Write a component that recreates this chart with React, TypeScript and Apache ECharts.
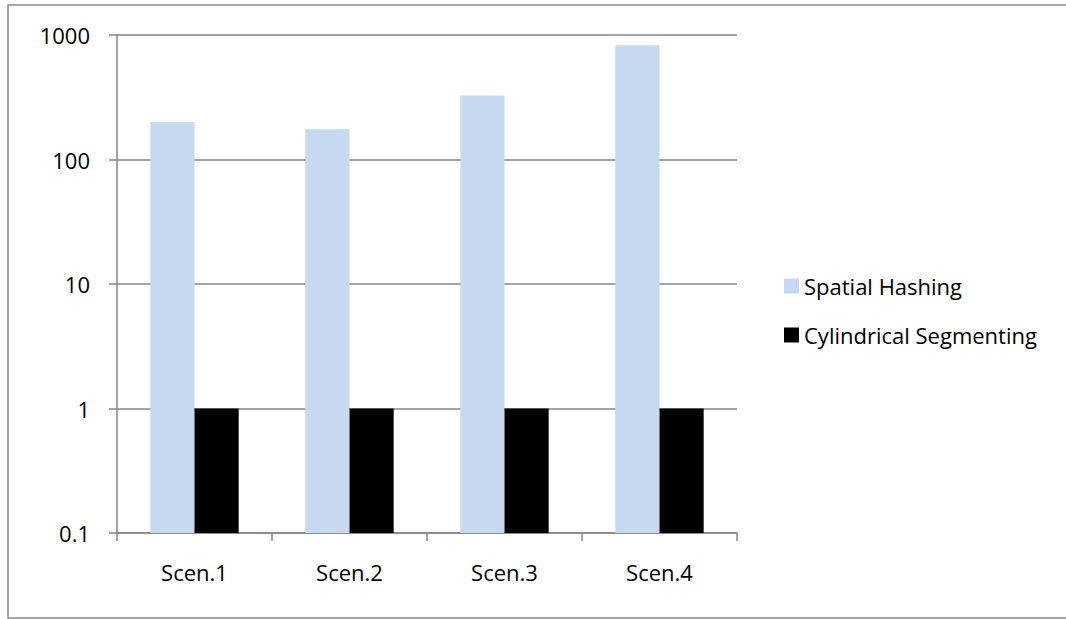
import React, { useEffect, useRef } from "react";
import * as echarts from "echarts";

const categories = ["Scen.1", "Scen.2", "Scen.3", "Scen.4"];
const spatialHashing = [200, 175, 326, 827];
const cylindricalSegmenting = [1, 1, 1, 1];
const seriesNames = ["Spatial Hashing", "Cylindrical Segmenting"];
const axisMin = 0.1;
const axisMax = 1000;

const FONT = "Open Sans";

export default function App() {
  const ref = useRef<HTMLDivElement>(null);
  useEffect(() => {
    if (!ref.current) return;
    const chart = echarts.init(ref.current, undefined, { renderer: "svg" });
    // Log-axis bars in ECharts start at 1; an invisible base of axisMin stacked
    // underneath makes each bar rise from the axis floor (0.1) as in the reference.
    const base = categories.map(() => axisMin);
    const common = { type: "bar", barGap: "0%", barCategoryGap: "43%" };
    chart.setOption({
      animation: false,
      backgroundColor: "#ffffff",
      graphic: [
        {
          type: "rect",
          shape: { x: 8, y: 5, width: 1070, height: 613 },
          style: { fill: "none", stroke: "#8a8a8a", lineWidth: 1.5 },
          silent: true,
        },
      ],
      grid: { left: 117, top: 35, right: 329, bottom: 86 },
      legend: {
        orient: "vertical",
        left: 779,
        top: 270,
        itemWidth: 15,
        itemHeight: 15,
        itemGap: 27,
        icon: "rect",
        textStyle: { fontFamily: FONT, fontSize: 22, color: "#000", lineHeight: 22 },
        data: seriesNames,
      },
      xAxis: {
        type: "category",
        data: categories,
        boundaryGap: true,
        axisLine: { show: true, lineStyle: { color: "#868686", width: 1.5 } },
        axisTick: { show: true, length: 8, alignWithLabel: false, lineStyle: { color: "#868686", width: 1.5 } },
        axisLabel: { fontFamily: FONT, fontSize: 22, color: "#000", margin: 28 },
      },
      yAxis: {
        type: "log",
        logBase: 10,
        min: axisMin,
        max: axisMax,
        axisLine: { show: true, lineStyle: { color: "#868686", width: 1.5 } },
        axisTick: { show: true, length: 8, lineStyle: { color: "#868686", width: 1.5 } },
        splitLine: { show: true, lineStyle: { color: "#868686", width: 1.5 } },
        minorTick: { show: false },
        axisLabel: {
          fontFamily: FONT,
          fontSize: 22,
          color: "#000",
          margin: 27,
          formatter: (v: number) => (v < 1 ? String(Math.round(v * 10) / 10) : String(Math.round(v))),
        },
      },
      series: [
        {
          ...common,
          name: "base1",
          stack: "a",
          data: base,
          itemStyle: { color: "rgba(0,0,0,0)" },
          silent: true,
        },
        {
          ...common,
          name: seriesNames[0],
          stack: "a",
          data: spatialHashing.map((v) => v - axisMin),
          itemStyle: { color: "#C6D9F1" },
        },
        {
          ...common,
          name: "base2",
          stack: "b",
          data: base,
          itemStyle: { color: "rgba(0,0,0,0)" },
          silent: true,
        },
        {
          ...common,
          name: seriesNames[1],
          stack: "b",
          data: cylindricalSegmenting.map((v) => v - axisMin),
          itemStyle: { color: "#000000" },
        },
      ],
    });
    return () => chart.dispose();
  }, []);
  return (
    <div
      ref={ref}
      style={{ position: "fixed", left: 0, top: 0, width: 1066, height: 619 }}
    />
  );
}
